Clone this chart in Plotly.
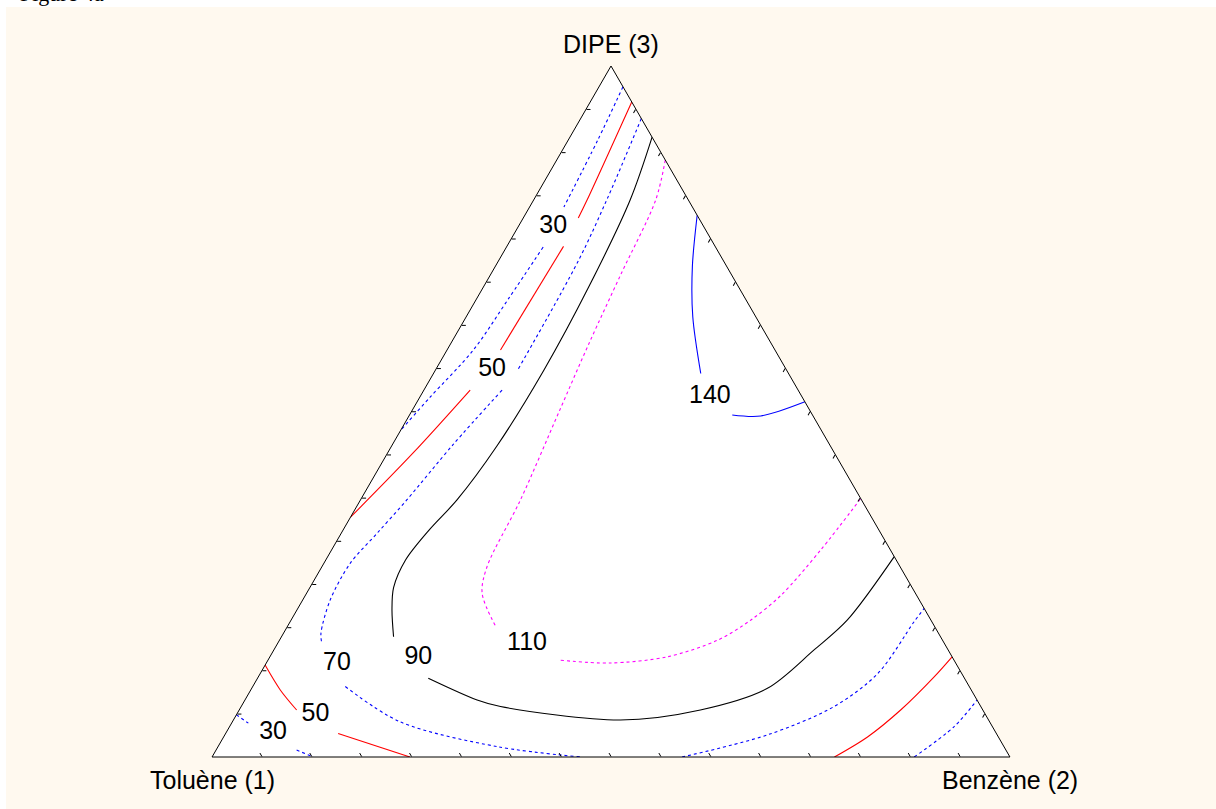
import plotly.graph_objects as go

# ---- iso-lines of the property over the DIPE / Toluène / Benzène diagram ----
# Compositions in %: DIPE (3) and Benzène (2); Toluène (1) is the balance.
# None marks a break in the line where its value label sits.

iso30_upper_dipe = [97.0, 89.3, 79.6, None, 73.8, 66.4, 58.9, 52.1, 47.3]
iso30_upper_benz = [3.0, 3.7, 4.3, None, 4.6, 4.0, 3.3, 1.3, 0.0]

iso30_corner1_dipe = [6.1, 4.9, None, 1.0, 0.0]
iso30_corner1_benz = [0.0, 2.1, None, 10.1, 12.7]

iso30_corner2_dipe = [0.0, 4.4, 8.25]
iso30_corner2_benz = [88.0, 90.8, 91.75]

iso50_upper_dipe = [94.8, 80.6, 78.0, None, 73.9, 58.9, None, 53.1, 44.0, 34.7]
iso50_upper_benz = [5.2, 6.7, 6.9, None, 7.1, 6.7, None, 5.8, 3.2, 0.0]

iso50_corner1_dipe = [13.3, 9.7, 6.8, None, 3.4, 0.0]
iso50_corner1_benz = [0.0, 3.7, 7.2, None, 14.1, 24.8]

iso50_corner2_dipe = [0.0, 2.9, 6.8, 11.6, 14.5]
iso50_corner2_benz = [78.0, 80.7, 82.9, 84.7, 85.5]

iso70_left_dipe = [92.4, 81.1, 71.9, 56.2, None, 53.1, 45.2, 37.2, 32.4, 28.0, 22.7,
                   17.9, 16.5, None, 10.2, 5.1, 1.5, 0.0]
iso70_left_benz = [7.6, 9.1, 10.0, 10.3, None, 9.8, 7.6, 5.8, 4.5, 3.3, 3.45,
                   4.7, 5.5, None, 11.6, 21.0, 35.0, 46.2]

iso70_right_dipe = [0.0, 3.2, 7.3, 12.1, 19.6, 21.5]
iso70_right_benz = [58.9, 68.0, 74.3, 77.4, 78.2, 78.5]

iso90_dipe = [89.7, 80.6, 68.0, 56.0, 45.0, 37.2, 32.9, 28.5, 24.5, 21.3, 17.4, None,
              11.4, 8.25, 7.3, 5.35, 6.8, 9.9, 15.5, 19.8, 29.0]
iso90_benz = [10.3, 12.1, 13.2, 13.6, 13.2, 12.1, 10.8, 10.0, 10.5, 11.9, 14.05, None,
              21.4, 29.1, 32.5, 48.5, 57.8, 64.6, 67.7, 69.7, 71.0]

iso110_dipe = [86.4, 80.6, 70.0, 60.0, 50.0, 37.2, 27.5, 23.7, 18.9, None, 14.0, 13.6,
               14.5, 16.9, 19.8, 23.4, 29.96, 37.4]
iso110_benz = [13.6, 15.3, 16.3, 17.3, 18.5, 20.05, 20.7, 22.0, 26.1, None, 36.7, 43.1,
               49.8, 54.9, 57.6, 59.6, 61.3, 62.6]

iso140_dipe = [78.4, 71.0, 63.7, 55.5, None, 49.5, 49.35, 51.4]
iso140_benz = [21.6, 24.7, 28.4, 33.5, None, 40.45, 44.1, 48.6]

# value labels written on the iso-lines
label_values = [30, 50, 30, 50, 70, 90, 110, 140]
label_dipe = [76.7, 56.0, 3.5, 6.1, 13.5, 14.3, 16.35, 52.2]
label_benz = [4.4, 7.1, 5.9, 9.9, 8.9, 18.7, 31.3, 36.3]

vertex_titles = ["DIPE (3)", "Toluène (1)", "Benzène (2)"]
caption = "Figure 4a"

# ---- styling ----
DOT = "3px,3px"
level_style = {
    30: ("#0000ff", DOT),
    50: ("#ff0000", "solid"),
    70: ("#0000ff", DOT),
    90: ("#000000", "solid"),
    110: ("#ff00ff", DOT),
    140: ("#0000ff", "solid"),
}

pieces = [
    (30, iso30_upper_dipe, iso30_upper_benz),
    (30, iso30_corner1_dipe, iso30_corner1_benz),
    (30, iso30_corner2_dipe, iso30_corner2_benz),
    (50, iso50_upper_dipe, iso50_upper_benz),
    (50, iso50_corner1_dipe, iso50_corner1_benz),
    (50, iso50_corner2_dipe, iso50_corner2_benz),
    (70, iso70_left_dipe, iso70_left_benz),
    (70, iso70_right_dipe, iso70_right_benz),
    (90, iso90_dipe, iso90_benz),
    (110, iso110_dipe, iso110_benz),
    (140, iso140_dipe, iso140_benz),
]

FONT = "Liberation Sans, Arial, sans-serif"
CREAM = "#fff9ef"

fig = go.Figure()


def balance(a_vals, c_vals):
    return [None if a is None else round(100 - a - c, 3) for a, c in zip(a_vals, c_vals)]


for level, a_vals, c_vals in pieces:
    color, dash = level_style[level]
    fig.add_trace(go.Scatterternary(
        a=a_vals, b=balance(a_vals, c_vals), c=c_vals,
        mode="lines",
        line=dict(color=color, width=1.1, dash=dash, shape="spline", smoothing=0.9),
        connectgaps=False,
        hoverinfo="skip",
        showlegend=False,
    ))

fig.add_trace(go.Scatterternary(
    a=label_dipe, b=balance(label_dipe, label_benz), c=label_benz,
    mode="text",
    text=[str(v) for v in label_values],
    textposition="middle center",
    textfont=dict(family=FONT, size=25, color="black"),
    hoverinfo="skip",
    showlegend=False,
))


def axis():
    return dict(
        title=dict(text=""),
        min=0,
        showgrid=False,
        showticklabels=False,
        ticks="inside",
        ticklen=4,
        tickwidth=1,
        tickcolor="black",
        tick0=0,
        dtick=6.25,
        linecolor="black",
        linewidth=1,
        showline=True,
    )


W, H = 1216, 809
ML, MR, MT, MB = 60, 54, 66, 52
plot_w, plot_h = W - ML - MR, H - MT - MB

fig.update_layout(
    width=W, height=H, autosize=False,
    margin=dict(l=ML, r=MR, t=MT, b=MB, pad=0),
    paper_bgcolor=CREAM,
    font=dict(family=FONT, color="black"),
    ternary=dict(
        sum=100,
        bgcolor="white",
        domain=dict(x=[0, 1], y=[0, 1]),
        aaxis=axis(),
        baxis=axis(),
        caxis=axis(),
    ),
    showlegend=False,
)


def px_x(p):
    return (p - ML) / plot_w


def px_y(p):
    return 1 - (p - MT) / plot_h


# triangle corners in page pixels (the ternary is centred in the plot area)
tri_h = plot_h
tri_w = tri_h * 2 / 3 ** 0.5
cx = ML + plot_w / 2
corners = [(cx, MT - 22), (cx - tri_w / 2, MT + tri_h + 23), (cx + tri_w / 2, MT + tri_h + 23)]
for title, (x, y) in zip(vertex_titles, corners):
    fig.add_annotation(
        text=title, xref="paper", yref="paper", x=px_x(x), y=px_y(y),
        xanchor="center", yanchor="middle", showarrow=False,
        font=dict(family=FONT, size=25, color="black"),
    )

# white page strip above and left of the cream panel
fig.add_shape(type="rect", xref="paper", yref="paper", layer="above",
              x0=px_x(0), x1=px_x(W), y0=px_y(7), y1=px_y(0),
              fillcolor="white", line=dict(width=0))
fig.add_shape(type="rect", xref="paper", yref="paper", layer="above",
              x0=px_x(0), x1=px_x(6), y0=px_y(H), y1=px_y(0),
              fillcolor="white", line=dict(width=0))

# caption running off the top of the page
fig.add_annotation(
    text=caption, xref="paper", yref="paper",
    x=px_x(18), y=px_y(-6.5), xanchor="left", yanchor="middle",
    showarrow=False,
    font=dict(family="Liberation Serif, Times New Roman, serif", size=22, color="black"),
)

fig.write_html("out.html")
